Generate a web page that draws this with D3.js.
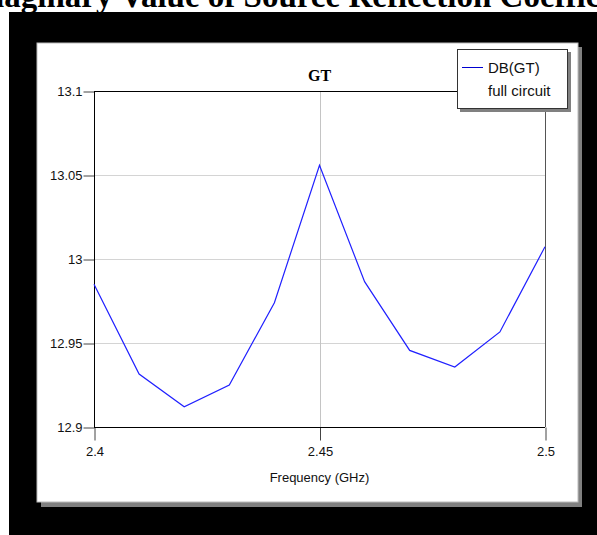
<!DOCTYPE html>
<html>
<head>
<meta charset="utf-8">
<script src="https://cdn.jsdelivr.net/npm/d3@7"></script>
<style>
  body { margin: 0; background: #fff; }
  svg { display: block; font-family: "Liberation Sans", Arial, sans-serif; }
</style>
</head>
<body>
<div id="chart-area"></div>
<script>
// data
const freqs = [2.40, 2.41, 2.42, 2.43, 2.44, 2.45, 2.46, 2.47, 2.48, 2.49, 2.50]
const gtValues = [12.985, 12.9315, 12.912, 12.925, 12.974, 13.0558, 12.9865, 12.9456, 12.9357, 12.9566, 13.0073]
const xTicks = [2.4, 2.45, 2.5]
const yTicks = [12.9, 12.95, 13, 13.05, 13.1]
const legendLabels = ["DB(GT)", "full circuit"]

const W = 597, H = 535
const PLOT = { LEFT: 94, RIGHT: 545, TOP: 91, BOTTOM: 427 }

const svg = d3.select("#chart-area").append("svg")
  .attr("width", W)
  .attr("height", H)

// cut-off page title above the figure
svg.append("text")
  .attr("x", -36)
  .attr("y", 7)
  .attr("font-family", "Liberation Serif, Times New Roman, serif")
  .attr("font-weight", "bold")
  .attr("font-size", "33px")
  .text("Imaginary Value of Source Reflection Coefficient")

// black frame
svg.append("rect")
  .attr("x", 9).attr("y", 12)
  .attr("width", W - 9).attr("height", H - 12)
  .attr("fill", "#000")

// panel shadow + panel
svg.append("rect")
  .attr("x", 41).attr("y", 47)
  .attr("width", 541).attr("height", 460)
  .attr("fill", "#808080")
svg.append("rect")
  .attr("x", 37).attr("y", 43)
  .attr("width", 541).attr("height", 459)
  .attr("fill", "#fff")
  .attr("stroke", "#bbb")
  .attr("stroke-width", 1)

// scales
const x = d3.scaleLinear().domain([2.4, 2.5]).range([PLOT.LEFT, PLOT.RIGHT])
const y = d3.scaleLinear().domain([12.9, 13.1]).range([PLOT.BOTTOM, PLOT.TOP])

// grid lines
svg.append("g")
  .selectAll("line")
  .data(yTicks.slice(1, -1))
  .join("line")
  .attr("x1", PLOT.LEFT).attr("x2", PLOT.RIGHT)
  .attr("y1", d => Math.round(y(d)) + 0.5).attr("y2", d => Math.round(y(d)) + 0.5)
  .attr("stroke", "#d4d4d4")
svg.append("g")
  .selectAll("line")
  .data(xTicks.slice(1, -1))
  .join("line")
  .attr("x1", d => Math.round(x(d)) + 0.5).attr("x2", d => Math.round(x(d)) + 0.5)
  .attr("y1", PLOT.TOP).attr("y2", PLOT.BOTTOM)
  .attr("stroke", "#c4c4c4")

// axes
const yAxisCall = d3.axisLeft(y)
  .tickValues(yTicks)
  .tickSize(11)
  .tickPadding(1)
  .tickFormat(d3.format(""))
const yAxis = svg.append("g")
  .attr("transform", `translate(${PLOT.LEFT + 0.5}, 0.5)`)
  .call(yAxisCall)
yAxis.select(".domain").remove()
yAxis.selectAll("line").attr("stroke", "#444")
yAxis.selectAll("text")
  .attr("font-size", "13px")
  .attr("font-family", "Liberation Sans, Arial, sans-serif")
  .attr("fill", "#111")

const xAxisCall = d3.axisBottom(x)
  .tickValues(xTicks)
  .tickSize(13)
  .tickPadding(6)
  .tickFormat(d3.format(""))
const xAxis = svg.append("g")
  .attr("transform", `translate(0.5, ${PLOT.BOTTOM + 0.5})`)
  .call(xAxisCall)
xAxis.select(".domain").remove()
xAxis.selectAll("line").attr("stroke", "#444")
xAxis.selectAll("text")
  .attr("font-size", "13px")
  .attr("font-family", "Liberation Sans, Arial, sans-serif")
  .attr("fill", "#111")

// plot frame
const frame = svg.append("g")
frame.append("line")
  .attr("x1", PLOT.LEFT).attr("x2", PLOT.RIGHT)
  .attr("y1", PLOT.TOP + 0.5).attr("y2", PLOT.TOP + 0.5)
  .attr("stroke", "#000")
frame.append("line")
  .attr("x1", PLOT.LEFT).attr("x2", PLOT.RIGHT)
  .attr("y1", PLOT.BOTTOM + 0.5).attr("y2", PLOT.BOTTOM + 0.5)
  .attr("stroke", "#000")
frame.append("line")
  .attr("x1", PLOT.LEFT + 0.5).attr("x2", PLOT.LEFT + 0.5)
  .attr("y1", PLOT.TOP).attr("y2", PLOT.BOTTOM)
  .attr("stroke", "#000")
frame.append("line")
  .attr("x1", PLOT.RIGHT + 0.5).attr("x2", PLOT.RIGHT + 0.5)
  .attr("y1", PLOT.TOP).attr("y2", PLOT.BOTTOM)
  .attr("stroke", "#555")

// axis label + chart title
svg.append("text")
  .attr("x", (PLOT.LEFT + PLOT.RIGHT) / 2)
  .attr("y", 482)
  .attr("text-anchor", "middle")
  .attr("font-size", "13px")
  .attr("fill", "#111")
  .text("Frequency (GHz)")
svg.append("text")
  .attr("x", (PLOT.LEFT + PLOT.RIGHT) / 2)
  .attr("y", 81)
  .attr("text-anchor", "middle")
  .attr("font-family", "Liberation Serif, Times New Roman, serif")
  .attr("font-weight", "bold")
  .attr("font-size", "16px")
  .text("GT")

// data line
const line = d3.line()
  .x((d, i) => x(freqs[i]))
  .y(d => y(d))
svg.append("path")
  .attr("d", line(gtValues))
  .attr("fill", "none")
  .attr("stroke", "#2020ff")
  .attr("stroke-width", 1.2)

// legend
const legend = svg.append("g")
legend.append("rect")
  .attr("x", 460).attr("y", 52)
  .attr("width", 111).attr("height", 60)
  .attr("fill", "#808080")
legend.append("rect")
  .attr("x", 457.5).attr("y", 49.5)
  .attr("width", 110).attr("height", 59)
  .attr("fill", "#fff")
  .attr("stroke", "#333")
legend.append("line")
  .attr("x1", 462).attr("x2", 483)
  .attr("y1", 67.5).attr("y2", 67.5)
  .attr("stroke", "#0000d0")
legend.selectAll(".lg")
  .data(legendLabels)
  .join("text")
  .attr("class", "lg")
  .attr("x", 488)
  .attr("y", (d, i) => 73 + i * 23)
  .attr("font-size", "15px")
  .attr("fill", "#111")
  .text(d => d)
</script>
</body>
</html>
